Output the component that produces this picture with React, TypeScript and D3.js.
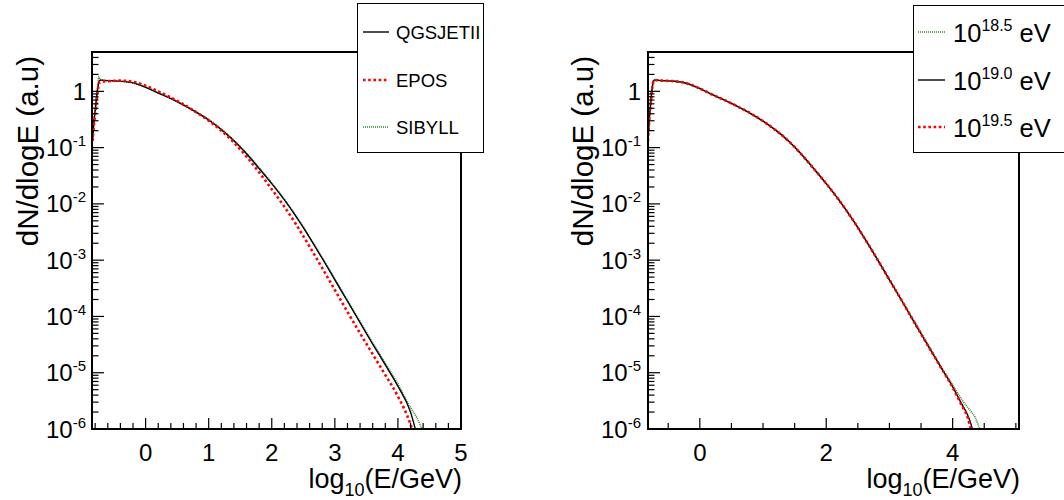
import React from "react";
import * as d3 from "d3";

// ---------- data (log10 of dN/dlogE) ----------
const xLeft = [-0.84, -0.82, -0.8, -0.78, -0.76, -0.74, -0.72, -0.6, -0.4, -0.2, 0, 0.2, 0.4, 0.6, 0.8, 1.0, 1.2, 1.4, 1.6, 1.8, 2.0, 2.2, 2.4, 2.6, 2.8, 3.0, 3.2, 3.4, 3.6, 3.8, 4.0, 4.2, 4.3, 4.4];
const qgsjetLog = [-0.85, -0.55, -0.35, -0.15, 0.05, 0.17, 0.2, 0.19, 0.18, 0.15, 0.07, -0.03, -0.13, -0.245, -0.37, -0.51, -0.68, -0.88, -1.11, -1.37, -1.64, -1.93, -2.25, -2.6, -2.97, -3.35, -3.73, -4.11, -4.49, -4.86, -5.24, -5.7, -6.1, -6.5];
const eposLog = [-0.88, -0.6, -0.4, -0.2, 0.0, 0.12, 0.17, 0.18, 0.19, 0.17, 0.1, 0.0, -0.11, -0.23, -0.37, -0.52, -0.7, -0.91, -1.16, -1.44, -1.74, -2.05, -2.39, -2.76, -3.14, -3.53, -3.92, -4.3, -4.67, -5.04, -5.42, -5.92, -6.3, -6.7];
const sibyllLog = [-0.85, -0.5, -0.3, -0.1, 0.1, 0.26, 0.21, 0.19, 0.18, 0.15, 0.08, -0.02, -0.12, -0.235, -0.36, -0.5, -0.67, -0.87, -1.1, -1.36, -1.63, -1.92, -2.24, -2.59, -2.96, -3.33, -3.71, -4.09, -4.47, -4.83, -5.2, -5.62, -5.8, -6.05];

const xRight = [-0.82, -0.8, -0.78, -0.76, -0.74, -0.72, -0.6, -0.4, -0.2, 0, 0.2, 0.4, 0.6, 0.8, 1.0, 1.2, 1.4, 1.6, 1.8, 2.0, 2.2, 2.4, 2.6, 2.8, 3.0, 3.2, 3.4, 3.6, 3.8, 4.0, 4.14, 4.24, 4.3, 4.35, 4.43, 4.5];
const e185Log = [-0.82, -0.48, -0.22, 0.02, 0.17, 0.21, 0.19, 0.18, 0.14, 0.05, -0.06, -0.16, -0.27, -0.39, -0.53, -0.69, -0.88, -1.11, -1.37, -1.64, -1.93, -2.25, -2.6, -2.97, -3.34, -3.72, -4.1, -4.48, -4.86, -5.22, -5.47, -5.62, -5.7, -5.78, -6.0, -6.2];
const e190Log = [-0.85, -0.5, -0.25, 0.0, 0.15, 0.2, 0.19, 0.18, 0.14, 0.05, -0.06, -0.16, -0.27, -0.39, -0.53, -0.69, -0.88, -1.11, -1.37, -1.64, -1.93, -2.25, -2.6, -2.97, -3.35, -3.73, -4.12, -4.5, -4.88, -5.25, -5.55, -5.76, -5.95, -6.2, -6.4, -6.6];
const e195Log = [-0.88, -0.52, -0.26, -0.01, 0.15, 0.2, 0.19, 0.18, 0.14, 0.05, -0.06, -0.16, -0.27, -0.39, -0.53, -0.69, -0.88, -1.11, -1.37, -1.64, -1.93, -2.25, -2.6, -2.97, -3.35, -3.73, -4.12, -4.5, -4.88, -5.26, -5.57, -5.8, -6.05, -6.25, -6.45, -6.65];

const leftLegend = ["QGSJETII", "EPOS", "SIBYLL"];
const rightLegendExp = ["18.5", "19.0", "19.5"];
const yTickExps = [0, -1, -2, -3, -4, -5, -6];

const FONT = "Liberation Sans, Arial, Helvetica, sans-serif";
const RED = "#ff0000";
const GREEN = "#2f8a2f";

type Series = { xs: number[]; logs: number[]; kind: "solid" | "red" | "green" };

function styleOf(kind: string) {
  if (kind === "red") return { stroke: RED, strokeWidth: 2.6, dash: "2.6,2.6" };
  if (kind === "green") return { stroke: GREEN, strokeWidth: 1.7, dash: "1,1" };
  return { stroke: "#000", strokeWidth: 1.4, dash: undefined as any };
}

function Panel(props: {
  id: string;
  x0: number;
  x1: number;
  domain: [number, number];
  majors: number[];
  minorStep: number;
  series: Series[];
  labelRight: number;
  titleX: number;
}) {
  const { id, x0, x1, domain, majors, minorStep, series, labelRight, titleX } = props;
  const top = 52;
  const bottom = 429;
  const x = d3.scaleLinear().domain(domain).range([x0, x1]);
  const y = d3.scaleLog().domain([1e-6, 5]).range([bottom, top]);

  const minorsX: number[] = [];
  const startM = Math.ceil(domain[0] / minorStep - 1e-9);
  for (let k = startM; k * minorStep <= domain[1] + 1e-9; k++) {
    const v = +(k * minorStep).toFixed(6);
    if (!majors.some((m) => Math.abs(m - v) < 1e-6)) minorsX.push(v);
  }
  const minorsY: number[] = [];
  for (let e = -6; e <= 0; e++) {
    for (let m = 2; m <= 9; m++) {
      const v = m * Math.pow(10, e);
      if (v <= 5) minorsY.push(v);
    }
  }

  const line = d3
    .line<[number, number]>()
    .x((d) => x(d[0]))
    .y((d) => y(Math.pow(10, d[1])))
    .curve(d3.curveMonotoneX);

  return (
    <g>
      <defs>
        <clipPath id={id}>
          <rect x={x0} y={top} width={x1 - x0} height={bottom - top} />
        </clipPath>
      </defs>
      <g clipPath={`url(#${id})`}>
        {series.map((s, i) => {
          const st = styleOf(s.kind);
          const pts = s.xs.map((xx, j) => [xx, s.logs[j]] as [number, number]);
          return (
            <path
              key={i}
              d={line(pts) || ""}
              fill="none"
              stroke={st.stroke}
              strokeWidth={st.strokeWidth}
              strokeDasharray={st.dash}
            />
          );
        })}
      </g>
      <rect x={x0} y={top} width={x1 - x0} height={bottom - top} fill="none" stroke="#000" strokeWidth={2} />
      {majors.map((m) => (
        <line key={"M" + m} x1={x(m)} x2={x(m)} y1={bottom} y2={bottom - 11} stroke="#000" strokeWidth={1.2} />
      ))}
      {minorsX.map((m) => (
        <line key={"m" + m} x1={x(m)} x2={x(m)} y1={bottom} y2={bottom - 6} stroke="#000" strokeWidth={1.2} />
      ))}
      {majors.map((m) => (
        <text key={"L" + m} x={x(m)} y={461} fontSize={24} fontFamily={FONT} textAnchor="middle">
          {m}
        </text>
      ))}
      {yTickExps.map((e) => (
        <line key={"YM" + e} x1={x0} x2={x0 + 12} y1={y(Math.pow(10, e))} y2={y(Math.pow(10, e))} stroke="#000" strokeWidth={1.2} />
      ))}
      {minorsY.map((v, i) => (
        <line key={"Ym" + i} x1={x0} x2={x0 + 6.5} y1={y(v)} y2={y(v)} stroke="#000" strokeWidth={1.2} />
      ))}
      {yTickExps.map((e) => (
        <text key={"YL" + e} x={labelRight} y={y(Math.pow(10, e)) + 8.5} fontSize={24} fontFamily={FONT} textAnchor="end">
          {e === 0 ? (
            "1"
          ) : (
            <>
              <tspan>10</tspan>
              <tspan dy={-10} fontSize={15}>
                {e}
              </tspan>
            </>
          )}
        </text>
      ))}
      <text x={x1 + 1} y={488} fontSize={27} fontFamily={FONT} textAnchor="end">
        <tspan>log</tspan>
        <tspan fontSize={18} dy={8}>
          10
        </tspan>
        <tspan dy={-8}>(E/GeV)</tspan>
      </text>
      <text
        transform={`translate(${titleX},56) rotate(-90)`}
        fontSize={29.5}
        fontFamily={FONT}
        textAnchor="end"
      >
        dN/dlogE (a.u)
      </text>
    </g>
  );
}

function LegendSample(props: { kind: string; x1: number; x2: number; y: number }) {
  const st = styleOf(props.kind);
  return (
    <line
      x1={props.x1}
      x2={props.x2}
      y1={props.y}
      y2={props.y}
      stroke={st.stroke}
      strokeWidth={st.strokeWidth}
      strokeDasharray={st.dash}
    />
  );
}

export default function App() {
  const leftSeries: Series[] = [
    { xs: xLeft, logs: sibyllLog, kind: "green" },
    { xs: xLeft, logs: qgsjetLog, kind: "solid" },
    { xs: xLeft, logs: eposLog, kind: "red" },
  ];
  const rightSeries: Series[] = [
    { xs: xRight, logs: e185Log, kind: "green" },
    { xs: xRight, logs: e190Log, kind: "solid" },
    { xs: xRight, logs: e195Log, kind: "red" },
  ];
  const leftKinds = ["solid", "red", "green"];
  const rightKinds = ["green", "solid", "red"];
  const legY = [32, 80, 127];

  return (
    <svg width={1064} height={500} style={{ position: "absolute", left: 0, top: 0, background: "#fff" }}>
      <rect x={0} y={0} width={1064} height={500} fill="#fff" />
      <Panel
        id="clipL"
        x0={92}
        x1={461}
        domain={[-0.85, 5.0]}
        majors={[0, 1, 2, 3, 4, 5]}
        minorStep={0.2}
        series={leftSeries}
        labelRight={86}
        titleX={38}
      />
      <Panel
        id="clipR"
        x0={648}
        x1={1019}
        domain={[-0.82, 5.05]}
        majors={[0, 2, 4]}
        minorStep={0.5}
        series={rightSeries}
        labelRight={641}
        titleX={593}
      />
      <rect x={357.5} y={3.5} width={126} height={149} fill="#fff" stroke="#000" strokeWidth={1} />
      {leftLegend.map((t, i) => (
        <g key={t}>
          <LegendSample kind={leftKinds[i]} x1={363} x2={389} y={legY[i]} />
          <text x={396} y={legY[i] + 6.5} fontSize={18.5} fontFamily={FONT}>
            {t}
          </text>
        </g>
      ))}
      <rect x={913.5} y={5.5} width={160} height={147} fill="#fff" stroke="#000" strokeWidth={1} />
      {rightLegendExp.map((t, i) => (
        <g key={t}>
          <LegendSample kind={rightKinds[i]} x1={918} x2={945} y={legY[i] + 0} />
          <text x={953} y={legY[i] + 9.5} fontSize={25.5} fontFamily={FONT}>
            <tspan>10</tspan>
            <tspan fontSize={16} dy={-11}>
              {t}
            </tspan>
            <tspan dy={11}> eV</tspan>
          </text>
        </g>
      ))}
    </svg>
  );
}
